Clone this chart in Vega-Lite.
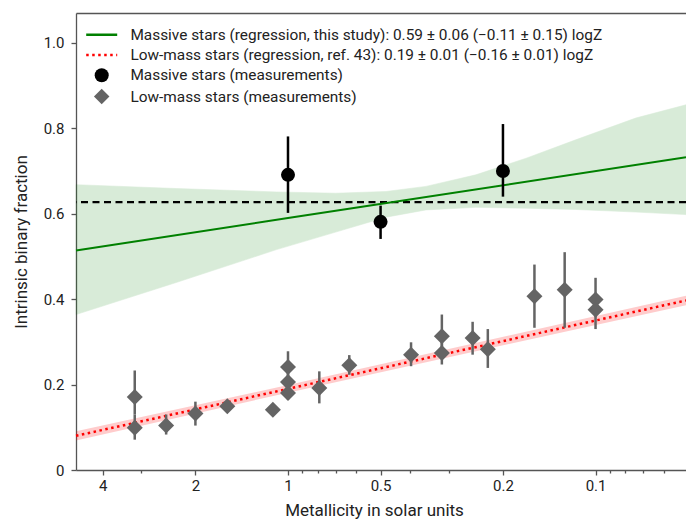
{
  "$schema": "https://vega.github.io/schema/vega-lite/v6.json",
  "width": 610,
  "height": 457,
  "autosize": {"type": "none"},
  "padding": {"left": 76, "top": 13, "right": 0, "bottom": 54},
  "background": "white",
  "config": {
    "view": {"stroke": null},
    "font": "Roboto",
    "axis": {
      "domainColor": "#555555",
      "domainWidth": 1.3,
      "tickColor": "#555555",
      "tickWidth": 1.3,
      "labelFontSize": 15,
      "labelColor": "#222222",
      "titleFontSize": 17,
      "titleFontWeight": "normal",
      "titleColor": "#222222",
      "grid": false
    }
  },
  "datasets": {
    "bandMassive": [
      {"Z": 4.89, "lo": 0.364, "hi": 0.668},
      {"Z": 2.31, "lo": 0.439, "hi": 0.659},
      {"Z": 1.09, "lo": 0.516, "hi": 0.651},
      {"Z": 0.70, "lo": 0.557, "hi": 0.648},
      {"Z": 0.48, "lo": 0.592, "hi": 0.652},
      {"Z": 0.356, "lo": 0.609, "hi": 0.664},
      {"Z": 0.245, "lo": 0.615, "hi": 0.691},
      {"Z": 0.168, "lo": 0.613, "hi": 0.730},
      {"Z": 0.116, "lo": 0.610, "hi": 0.773},
      {"Z": 0.074, "lo": 0.604, "hi": 0.824},
      {"Z": 0.0508, "lo": 0.598, "hi": 0.855}
    ],
    "bandLow": [
      {"Z": 4.89, "lo": 0.069, "hi": 0.091},
      {"Z": 1.0, "lo": 0.181, "hi": 0.199},
      {"Z": 0.0508, "lo": 0.386, "hi": 0.408}
    ],
    "regMassive": [
      {"Z": 4.89, "f": 0.514, "series": "Massive stars (regression, this study): 0.59 ± 0.06 (−0.11 ± 0.15) logZ"},
      {"Z": 1.0, "f": 0.59, "series": "Massive stars (regression, this study): 0.59 ± 0.06 (−0.11 ± 0.15) logZ"},
      {"Z": 0.0508, "f": 0.732, "series": "Massive stars (regression, this study): 0.59 ± 0.06 (−0.11 ± 0.15) logZ"}
    ],
    "regLow": [
      {"Z": 4.89, "f": 0.080, "series": "Low-mass stars (regression, ref. 43): 0.19 ± 0.01 (−0.16 ± 0.01) logZ"},
      {"Z": 1.0, "f": 0.19, "series": "Low-mass stars (regression, ref. 43): 0.19 ± 0.01 (−0.16 ± 0.01) logZ"},
      {"Z": 0.0508, "f": 0.397, "series": "Low-mass stars (regression, ref. 43): 0.19 ± 0.01 (−0.16 ± 0.01) logZ"}
    ],
    "mean": [{"f": 0.627}],
    "massive": [
      {"Z": 1.0, "f": 0.691, "lo": 0.602, "hi": 0.781, "series": "Massive stars (measurements)"},
      {"Z": 0.5, "f": 0.581, "lo": 0.541, "hi": 0.619, "series": "Massive stars (measurements)"},
      {"Z": 0.2, "f": 0.700, "lo": 0.640, "hi": 0.810, "series": "Massive stars (measurements)"}
    ],
    "lowmass": [
      {"Z": 3.15, "f": 0.171, "lo": 0.13, "hi": 0.233, "series": "Low-mass stars (measurements)"},
      {"Z": 3.15, "f": 0.099, "lo": 0.071, "hi": 0.13, "series": "Low-mass stars (measurements)"},
      {"Z": 2.49, "f": 0.104, "lo": 0.083, "hi": 0.130, "series": "Low-mass stars (measurements)"},
      {"Z": 2.0, "f": 0.132, "lo": 0.104, "hi": 0.160, "series": "Low-mass stars (measurements)"},
      {"Z": 1.575, "f": 0.149, "lo": 0.142, "hi": 0.156, "series": "Low-mass stars (measurements)"},
      {"Z": 1.12, "f": 0.141, "lo": 0.136, "hi": 0.146, "series": "Low-mass stars (measurements)"},
      {"Z": 1.0, "f": 0.241, "lo": 0.21, "hi": 0.278, "series": "Low-mass stars (measurements)"},
      {"Z": 1.0, "f": 0.206, "lo": 0.19, "hi": 0.23, "series": "Low-mass stars (measurements)"},
      {"Z": 1.0, "f": 0.180, "lo": 0.165, "hi": 0.20, "series": "Low-mass stars (measurements)"},
      {"Z": 0.791, "f": 0.192, "lo": 0.156, "hi": 0.231, "series": "Low-mass stars (measurements)"},
      {"Z": 0.632, "f": 0.245, "lo": 0.223, "hi": 0.269, "series": "Low-mass stars (measurements)"},
      {"Z": 0.398, "f": 0.270, "lo": 0.243, "hi": 0.299, "series": "Low-mass stars (measurements)"},
      {"Z": 0.316, "f": 0.313, "lo": 0.28, "hi": 0.364, "series": "Low-mass stars (measurements)"},
      {"Z": 0.316, "f": 0.274, "lo": 0.247, "hi": 0.30, "series": "Low-mass stars (measurements)"},
      {"Z": 0.251, "f": 0.309, "lo": 0.270, "hi": 0.347, "series": "Low-mass stars (measurements)"},
      {"Z": 0.224, "f": 0.283, "lo": 0.239, "hi": 0.330, "series": "Low-mass stars (measurements)"},
      {"Z": 0.158, "f": 0.407, "lo": 0.333, "hi": 0.481, "series": "Low-mass stars (measurements)"},
      {"Z": 0.126, "f": 0.422, "lo": 0.333, "hi": 0.510, "series": "Low-mass stars (measurements)"},
      {"Z": 0.1, "f": 0.399, "lo": 0.36, "hi": 0.450, "series": "Low-mass stars (measurements)"},
      {"Z": 0.1, "f": 0.375, "lo": 0.330, "hi": 0.40, "series": "Low-mass stars (measurements)"}
    ]
  },
  "layer": [
    {
      "data": {"name": "bandMassive"},
      "mark": {"type": "area", "orient": "vertical", "color": "#008000", "opacity": 0.15, "stroke": "#008000", "strokeOpacity": 0.7, "strokeWidth": 0.8},
      "encoding": {
        "x": {
          "field": "Z", "type": "quantitative",
          "scale": {"type": "log", "domain": [0.0508, 4.89], "reverse": true, "nice": false},
          "axis": {
            "values": [4, 3, 2, 1, 0.9, 0.8, 0.7, 0.6, 0.5, 0.4, 0.3, 0.2, 0.1, 0.09, 0.08, 0.07, 0.06],
            "labelExpr": "indexof([4, 2, 1, 0.5, 0.2, 0.1], datum.value) >= 0 ? '' + datum.value : ''",
            "tickSize": {"condition": {"test": "indexof([4, 2, 1, 0.5, 0.2, 0.1], datum.value) >= 0", "value": 5}, "value": 3},
            "labelPadding": 3,
            "labelFlush": false,
            "labelOverlap": false,
            "title": "Metallicity in solar units",
            "titlePadding": 9,
            "titleX": 298
          }
        },
        "y": {
          "field": "lo", "type": "quantitative",
          "scale": {"domain": [0, 1.07], "nice": false, "zero": false},
          "axis": {
            "values": [0, 0.2, 0.4, 0.6, 0.8, 1.0],
            "labelExpr": "datum.value == 0 ? '0' : format(datum.value, '.1f')",
            "tickSize": 5,
            "labelPadding": 7,
            "title": "Intrinsic binary fraction",
            "titlePadding": 13
          }
        },
        "y2": {"field": "hi"}
      }
    },
    {
      "data": {"name": "bandLow"},
      "mark": {"type": "area", "orient": "vertical", "color": "#ff0000", "opacity": 0.2},
      "encoding": {
        "x": {"field": "Z", "type": "quantitative", "axis": null},
        "y": {"field": "lo", "type": "quantitative"},
        "y2": {"field": "hi"}
      }
    },
    {
      "data": {"name": "mean"},
      "mark": {"type": "rule", "color": "#000000", "strokeWidth": 2.2, "strokeDash": [7, 4.5]},
      "encoding": {
        "y": {"field": "f", "type": "quantitative"}
      }
    },
    {
      "data": {"name": "regMassive"},
      "mark": {"type": "line", "strokeWidth": 2},
      "encoding": {
        "x": {"field": "Z", "type": "quantitative", "axis": {"orient": "top", "labels": false, "ticks": false, "title": null, "domainColor": "#555555", "domainWidth": 1.3}},
        "y": {"field": "f", "type": "quantitative"},
        "color": {
          "field": "series", "type": "nominal",
          "scale": {
            "domain": [
              "Massive stars (regression, this study): 0.59 ± 0.06 (−0.11 ± 0.15) logZ",
              "Low-mass stars (regression, ref. 43): 0.19 ± 0.01 (−0.16 ± 0.01) logZ",
              "Massive stars (measurements)",
              "Low-mass stars (measurements)"
            ],
            "range": ["#008000", "#ff0000", "#000000", "#646464"]
          },
          "legend": {
            "title": null,
            "orient": "none",
            "legendX": 18,
            "legendY": 14,
            "padding": 0,
            "symbolSize": 400,
            "labelFontSize": 15.4,
            "labelColor": "#222222",
            "labelOffset": 21,
            "rowPadding": 3.3,
            "labelLimit": 640,
            "encode": {
              "symbols": {
                "update": {
                  "shape": {"signal": "datum.index < 2 ? 'stroke' : (datum.index == 2 ? 'circle' : 'diamond')"},
                  "size": {"signal": "datum.index < 2 ? 961 : (datum.index == 2 ? 196 : 240)"},
                  "strokeDash": {"signal": "datum.index == 1 ? [2.5, 3.5] : [1, 0]"},
                  "strokeWidth": {"signal": "datum.index < 2 ? 2.5 : 0"},
                  "stroke": {"signal": "datum.index == 0 ? '#008000' : (datum.index == 1 ? '#ff0000' : 'transparent')"},
                  "fill": {"signal": "datum.index == 2 ? '#000000' : (datum.index == 3 ? '#646464' : 'transparent')"},
                  "opacity": {"value": 1},
                  "fillOpacity": {"value": 1},
                  "strokeOpacity": {"value": 1}
                }
              }
            }
          }
        }
      }
    },
    {
      "data": {"name": "regLow"},
      "mark": {"type": "line", "strokeWidth": 2.5, "strokeDash": [2.5, 3.5]},
      "encoding": {
        "x": {"field": "Z", "type": "quantitative", "axis": null},
        "y": {"field": "f", "type": "quantitative"},
        "color": {"field": "series", "type": "nominal"}
      }
    },
    {
      "data": {"name": "lowmass"},
      "mark": {"type": "rule", "color": "#646464", "strokeWidth": 2.5},
      "encoding": {
        "x": {"field": "Z", "type": "quantitative", "axis": null},
        "y": {"field": "lo", "type": "quantitative"},
        "y2": {"field": "hi"}
      }
    },
    {
      "data": {"name": "lowmass"},
      "mark": {"type": "point", "shape": "diamond", "filled": true, "size": 256, "opacity": 1},
      "encoding": {
        "x": {"field": "Z", "type": "quantitative", "axis": null},
        "y": {"field": "f", "type": "quantitative"},
        "color": {"field": "series", "type": "nominal"}
      }
    },
    {
      "data": {"name": "massive"},
      "mark": {"type": "rule", "color": "#000000", "strokeWidth": 2.5},
      "encoding": {
        "x": {"field": "Z", "type": "quantitative", "axis": null},
        "y": {"field": "lo", "type": "quantitative"},
        "y2": {"field": "hi"}
      }
    },
    {
      "data": {"name": "massive"},
      "mark": {"type": "point", "shape": "circle", "filled": true, "size": 196, "opacity": 1},
      "encoding": {
        "x": {"field": "Z", "type": "quantitative", "axis": null},
        "y": {"field": "f", "type": "quantitative"},
        "color": {"field": "series", "type": "nominal"}
      }
    }
  ],
  "resolve": {"axis": {"x": "independent"}}
}
